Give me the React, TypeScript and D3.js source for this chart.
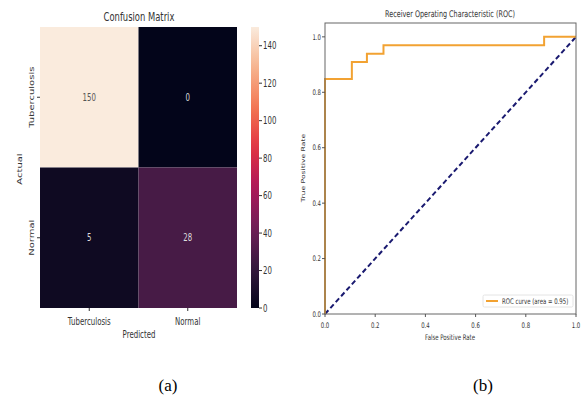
import React from "react";
import * as d3 from "d3";

const classes = ["Tuberculosis", "Normal"];
const matrix = [
  [150, 0],
  [5, 28],
];
const cbarTicks = [0, 20, 40, 60, 80, 100, 120, 140];
const rocketStops = ["#03051A", "#35193E", "#701F57", "#AD1759", "#E13342", "#F37651", "#F6B48F", "#FAEBDD"];

const fpr = [0, 0, 0.107, 0.107, 0.167, 0.167, 0.233, 0.233, 0.873, 0.873, 1];
const tpr = [0, 0.848, 0.848, 0.909, 0.909, 0.939, 0.939, 0.97, 0.97, 1, 1];
const rocTicks = [0, 0.2, 0.4, 0.6, 0.8, 1.0];
const aucLabel = "ROC curve (area = 0.95)";

const SX = 0.7;
const FONT = "DejaVu Sans, sans-serif";

function Txt({ x, y, children, size = 10, anchor = "middle", rot = 0, fill = "#333", dy = "0", sx = SX, weight = "normal" }: any) {
  return (
    <text
      transform={`translate(${x},${y}) scale(${sx},1) rotate(${rot})`}
      fontSize={size}
      textAnchor={anchor}
      fill={fill}
      dy={dy}
      fontFamily={FONT}
      fontWeight={weight}
    >
      {children}
    </text>
  );
}

export default function App() {
  // Heatmap scales
  const hx = d3.scaleBand<string>().domain(classes).range([40, 237]);
  const hy = d3.scaleBand<string>().domain(classes).range([27, 308]);
  const interp = d3.piecewise(d3.interpolateRgb, rocketStops);
  const color = d3.scaleSequential(interp).domain([0, 150]);
  const cy = d3.scaleLinear().domain([0, 150]).range([308, 27]);
  const cbX0 = 251, cbX1 = 259;
  const gradStops = d3.range(0, 1.0001, 0.05);

  // ROC scales
  const rx = d3.scaleLinear().domain([0, 1]).range([325, 576]);
  const ry = d3.scaleLinear().domain([0, 1.05]).range([314, 23]);
  const line = d3.line<number>().x((_, i) => rx(fpr[i])).y((d) => ry(d));
  const rocPath = line(tpr) || "";

  return (
    <svg width={581} height={407} style={{ position: "absolute", left: 0, top: 0, background: "#fff" }}>
      <defs>
        <linearGradient id="cbar" x1="0" y1="1" x2="0" y2="0">
          {gradStops.map((t) => (
            <stop key={t} offset={`${t * 100}%`} stopColor={interp(t)} />
          ))}
        </linearGradient>
      </defs>

      {/* Heatmap */}
      <Txt x={139} y={21} size={12}>Confusion Matrix</Txt>
      {matrix.map((row, i) =>
        row.map((v, j) => (
          <g key={`${i}-${j}`}>
            <rect
              x={hx(classes[j])}
              y={hy(classes[i])}
              width={hx.bandwidth()}
              height={hy.bandwidth()}
              fill={color(v)}
            />
            <Txt
              x={(hx(classes[j]) || 0) + hx.bandwidth() / 2}
              y={(hy(classes[i]) || 0) + hy.bandwidth() / 2}
              dy="0.35em"
              fill={v > 90 ? "#555" : "#ddd"}
            >
              {v}
            </Txt>
          </g>
        ))
      )}
      {classes.map((c) => {
        const cx = (hx(c) || 0) + hx.bandwidth() / 2;
        const cyy = (hy(c) || 0) + hy.bandwidth() / 2;
        return (
          <g key={c}>
            <line x1={cx} x2={cx} y1={308} y2={311} stroke="#333" />
            <Txt x={cx} y={325}>{c}</Txt>
            <line x1={37} x2={40} y1={cyy} y2={cyy} stroke="#333" />
            <Txt x={32} y={cyy} rot={-90} dy="0.35em">{c}</Txt>
          </g>
        );
      })}
      <Txt x={139} y={338}>Predicted</Txt>
      <Txt x={20} y={169} rot={-90} dy="0.35em">Actual</Txt>

      {/* Colorbar */}
      <rect x={cbX0} y={cy(150)} width={cbX1 - cbX0} height={cy(0) - cy(150)} fill="url(#cbar)" />
      {cbarTicks.map((t) => (
        <g key={t}>
          <line x1={cbX1} x2={cbX1 + 3} y1={cy(t)} y2={cy(t)} stroke="#333" />
          <Txt x={263} y={cy(t)} anchor="start" dy="0.35em">{t}</Txt>
        </g>
      ))}

      {/* ROC */}
      <Txt x={450} y={17} size={9.2}>Receiver Operating Characteristic (ROC)</Txt>
      <line
        x1={rx(0)} y1={ry(0)} x2={rx(1)} y2={ry(1)}
        stroke="#1a1a70" strokeWidth={2} strokeDasharray="5,3"
      />
      <path d={rocPath} fill="none" stroke="#f2a232" strokeWidth={2} />
      <rect x={rx(0)} y={ry(1.05)} width={rx(1) - rx(0)} height={ry(0) - ry(1.05)} fill="none" stroke="#666" strokeWidth={1} />
      {rocTicks.map((t) => (
        <g key={t}>
          <line x1={rx(t)} x2={rx(t)} y1={ry(0)} y2={ry(0) + 3} stroke="#555" />
          <Txt x={rx(t)} y={328} size={7.7}>{t.toFixed(1)}</Txt>
          <line x1={rx(0) - 3} x2={rx(0)} y1={ry(t)} y2={ry(t)} stroke="#555" />
          <Txt x={321} y={ry(t)} size={7.7} anchor="end" dy="0.35em">{t.toFixed(1)}</Txt>
        </g>
      ))}
      <Txt x={450} y={340} size={7.7}>False Positive Rate</Txt>
      <Txt x={303} y={168} size={7.7} rot={-90} dy="0.35em">True Positive Rate</Txt>

      {/* Legend */}
      <rect x={483} y={295} width={90} height={12} fill="#fff" stroke="#ddd" strokeWidth={0.8} rx={1.5} />
      <line x1={486} x2={498} y1={301} y2={301} stroke="#f2a232" strokeWidth={2} />
      <Txt x={502} y={301} size={7.7} anchor="start" dy="0.35em">{aucLabel}</Txt>

      {/* Captions */}
      <text x={168} y={391} fontSize={17} textAnchor="middle" fontFamily="Liberation Serif, Times New Roman, serif" fill="#000">(a)</text>
      <text x={483} y={391} fontSize={17} textAnchor="middle" fontFamily="Liberation Serif, Times New Roman, serif" fill="#000">(b)</text>
    </svg>
  );
}
